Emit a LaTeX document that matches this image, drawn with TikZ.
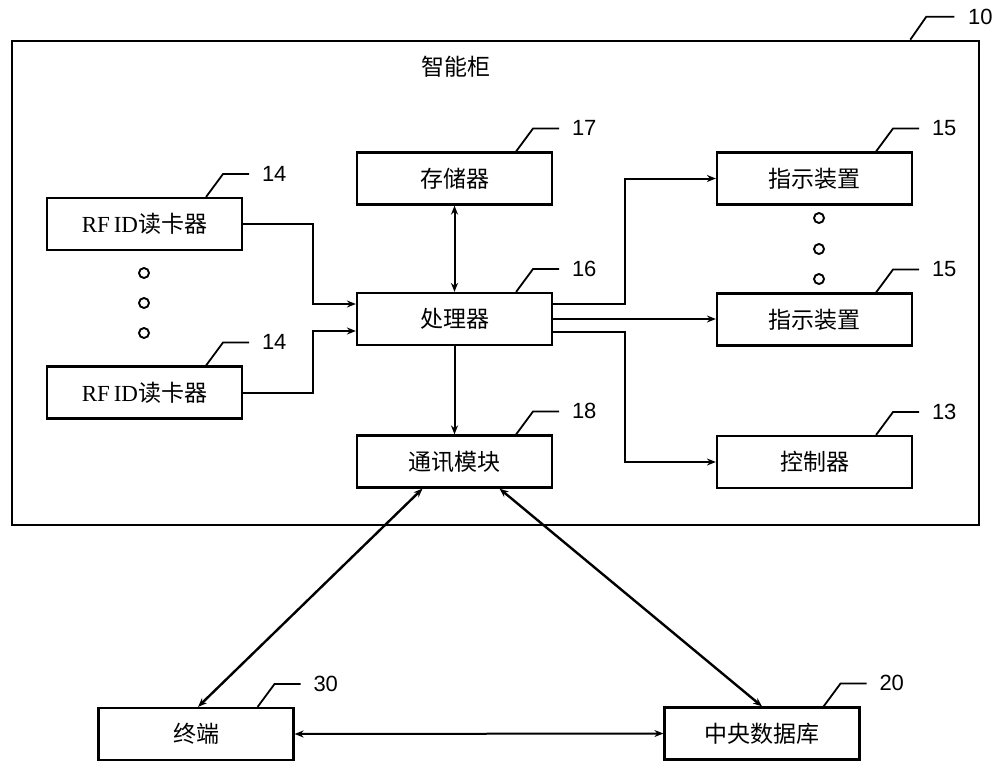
\documentclass[tikz,border=0pt]{standalone}
\usepackage{fontspec}
\setmainfont{Liberation Serif}
\newfontfamily\cjk{Noto Sans CJK SC}
\newfontfamily\numfont{Liberation Sans}
\usetikzlibrary{arrows.meta}

\tikzset{
  blocco/.style={draw, line width=2.2pt, minimum width=195pt, minimum height=52pt,
    inner sep=0pt, font=\cjk\fontsize{23}{26}\selectfont},
  freccia/.style={line width=2pt, -{Stealth[length=9pt,width=7pt]}},
  doppia/.style={line width=2pt, {Stealth[length=9pt,width=7pt]}-{Stealth[length=9pt,width=7pt]}},
  numero/.style={font=\numfont\fontsize{22}{24}\selectfont, anchor=west, inner sep=0pt},
  richiamo/.style={line width=1.8pt},
}
% linea di richiamo con il numero
\newcommand{\etichetta}[2]{%
  \draw[richiamo] (#1.north east) ++(-37,0) -- ++(17,-23) -- ++(26,0)
    node[numero, xshift=12pt] (n-#1) {#2};}

\begin{document}
\begin{tikzpicture}[x=1pt,y=-1pt]
        \useasboundingbox (0,0) rectangle (1000,773);

        % Disegna l'armadio
        \node[draw, line width=2.6pt, minimum width=967pt, minimum height=484pt] (armadio) at (495.5,283) {};
        \node[font=\cjk\fontsize{23}{26}\selectfont] (titolo) at (456,67) {智能柜};
        \draw[richiamo] (armadio.north east) ++(-70,0) -- ++(16,-23) -- ++(28,0)
          node[numero, xshift=13pt] (n-armadio) {10};

        % Disegna i blocchi
        \node[blocco] (rfidA) at (144.5,224) {{\rmfamily RF\,ID}读卡器};
        \node[blocco] (rfidB) at (144.5,392.5) {{\rmfamily RF\,ID}读卡器};
        \node[blocco] (mem) at (454.5,178.5) {存储器};
        \node[blocco] (proc) at (454.5,319) {处理器};
        \node[blocco] (comm) at (454.5,461.5) {通讯模块};
        \node[blocco] (indA) at (814.5,178.5) {指示装置};
        \node[blocco] (indB) at (814.5,319.5) {指示装置};
        \node[blocco] (ctrl) at (814.5,462) {控制器};
        \node[blocco] (term) at (196,734) {终端};
        \node[blocco] (db) at (762,733.5) {中央数据库};

        % Disegna i numeri
        \etichetta{rfidA}{14}
        \etichetta{rfidB}{14}
        \etichetta{mem}{17}
        \etichetta{proc}{16}
        \etichetta{comm}{18}
        \etichetta{indA}{15}
        \etichetta{indB}{15}
        \etichetta{ctrl}{13}
        \etichetta{term}{30}
        \etichetta{db}{20}

        % Disegna i puntini
        \foreach \y in {273,303,333} {
          \draw[line width=1.9pt] (144,\y) circle (5);
        }
        \foreach \y in {218,249,279} {
          \draw[line width=1.9pt] (819,\y) circle (5);
        }

        % Disegna i collegamenti
        \draw[freccia] (rfidA.east) -- ++(70,0) |- ([yshift=15pt]proc.west);
        \draw[freccia] (rfidB.east) -- ++(70,0) |- ([yshift=-12pt]proc.west);
        \draw[doppia] (mem.south) -- (proc.north);
        \draw[freccia] (proc.south) -- (comm.north);
        \draw[freccia] ([yshift=15pt]proc.east) -- ++(72,0) |- (indA.west);
        \draw[freccia] (proc.east) -- (proc.east -| indB.west);
        \draw[freccia] ([yshift=-13pt]proc.east) -- ++(72,0) |- (ctrl.west);
        \draw[doppia, line width=2.4pt] ([xshift=-32pt]comm.south) -- ([xshift=2pt]term.north);
        \draw[doppia, line width=2.4pt] ([xshift=45pt]comm.south) -- (db.north);
        \draw[doppia] (term.east) -- (db.west);

\end{tikzpicture}
\end{document}
